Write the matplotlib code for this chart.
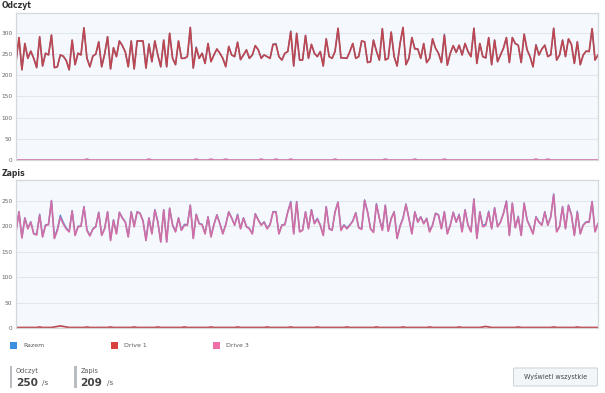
import numpy as np
import matplotlib
matplotlib.use("Agg")
import matplotlib.pyplot as plt
from matplotlib.patches import Rectangle, FancyBboxPatch

plt.rcParams['font.family'] = ['DejaVu Sans']

# ---------------- data ----------------
read_drive1 = [
    232, 289, 213, 275, 240, 257, 240, 218, 291, 222, 252, 248, 295, 218, 220, 248, 245, 235, 213, 283, 225, 252,
    248, 312, 240, 220, 245, 250, 279, 220, 250, 291, 215, 265, 244, 281, 270, 255, 220, 281, 215, 281, 281, 281,
    217, 273, 232, 281, 248, 220,
    283, 220, 299, 240, 225, 281, 240, 240, 244, 313, 217, 265, 240, 252, 228, 275, 232, 248, 262, 252, 240, 220,
    268, 248, 244, 278, 237, 248, 260, 240, 248, 270, 260, 240, 248, 244, 240, 273, 273, 244, 236, 252, 256, 303,
    222, 299, 236, 236, 294, 240,
    273, 252, 244, 256, 222, 286, 244, 240, 256, 311, 241, 241, 240, 256, 275, 240, 244, 281, 279, 230, 232, 283,
    257, 236, 310, 236, 240, 302, 244, 222, 275, 313, 225, 240, 289, 262, 262, 240, 275, 230, 240, 286, 264, 252,
    230, 295, 224, 252, 270, 254,
    271, 248, 275, 256, 244, 311, 228, 275, 244, 241, 289, 225, 283, 232, 248, 264, 289, 230, 289, 275, 271, 230,
    297, 260, 244, 220, 271, 248, 262, 271, 244, 248, 311, 236, 248, 283, 244, 286, 273, 228, 279, 225, 248, 257,
    256, 310, 236, 248,
]

read_drive3 = [
    0, 0, 0, 0, 0, 0, 0, 0, 0, 0, 0, 0, 0, 0, 0, 0, 0, 0, 0, 0, 0, 0,
    0, 0, 2, 0, 0, 0, 0, 0, 0, 0, 0, 0, 0, 0, 0, 0, 0, 0, 0, 0, 0, 0,
    0, 2, 0, 0, 0, 0, 0, 0, 0, 0, 0, 0, 0, 0, 0, 0, 0, 2, 0, 0, 0, 0,
    2, 0, 0, 0, 0, 2, 0, 0, 0, 0, 0, 0, 0, 0, 0, 0, 0, 2, 0, 0, 0, 0,
    2, 0, 0, 0, 0, 2, 0, 0, 0, 0, 0, 0, 0, 0, 0, 0, 0, 0, 0, 0, 2, 0,
    0, 0, 0, 0, 0, 0, 0, 0, 0, 0, 0, 0, 0, 0, 0, 2, 0, 0, 0, 0, 0, 0,
    0, 0, 0, 2, 0, 0, 0, 0, 0, 0, 0, 0, 0, 2, 0, 0, 0, 0, 0, 0, 0, 0,
    0, 0, 0, 0, 0, 0, 0, 0, 0, 0, 0, 0, 0, 0, 0, 0, 0, 0, 0, 0, 0, 0,
    2, 0, 0, 0, 2, 0, 0, 0, 0, 0, 0, 0, 0, 0, 0, 0, 0, 0, 0, 0, 0, 0,
]

write_drive3 = [
    189, 228, 177, 216, 195, 208, 185, 183, 222, 179, 202, 203, 250, 176, 192, 218, 205, 195, 189, 230, 182, 199,
    200, 238, 192, 181, 194, 199, 227, 182, 195, 228, 172, 212, 185, 227, 216, 208, 179, 228, 199, 228, 225, 210,
    172, 216, 185, 232, 208, 169,
    232, 169, 235, 202, 189, 216, 192, 202, 202, 241, 176, 223, 205, 203, 185, 218, 179, 203, 222, 205, 185, 203,
    228, 216, 202, 222, 195, 216, 199, 195, 185, 224, 212, 202, 208, 195, 203, 228, 228, 185, 202, 203, 228, 247,
    185, 248, 189, 192, 228, 195,
    232, 205, 214, 202, 182, 238, 195, 192, 228, 247, 192, 202, 195, 202, 210, 226, 197, 194, 251, 228, 195, 188,
    243, 215, 192, 241, 190, 215, 228, 176, 200, 215, 243, 215, 185, 228, 208, 218, 205, 215, 189, 202, 225, 222,
    195, 228, 185, 202, 227, 208,
    222, 189, 232, 202, 189, 253, 176, 228, 199, 202, 228, 195, 236, 199, 208, 225, 249, 182, 245, 197, 218, 182,
    245, 212, 199, 185, 218, 208, 202, 228, 202, 218, 262, 189, 199, 238, 195, 241, 222, 182, 228, 185, 202, 208,
    208, 248, 189, 205,
]

write_drive1 = [
    1, 1, 1, 1, 1, 1, 1, 1, 2, 1, 1, 1, 1, 2, 3, 4, 3, 2, 1, 1, 1, 1,
    1, 1, 2, 1, 1, 1, 1, 1, 1, 1, 2, 1, 1, 1, 1, 1, 1, 1, 2, 1, 1, 1,
    1, 1, 1, 1, 2, 1, 1, 1, 1, 1, 1, 1, 1, 2, 1, 1, 1, 1, 1, 1, 1, 1,
    2, 1, 1, 1, 1, 1, 1, 1, 1, 2, 1, 1, 1, 1, 1, 1, 1, 1, 1, 2, 1, 1,
    1, 1, 1, 1, 1, 2, 1, 1, 1, 1, 1, 1, 1, 1, 2, 1, 1, 1, 1, 1, 1, 1,
    1, 1, 2, 1, 1, 1, 1, 1, 1, 1, 1, 1, 2, 1, 1, 1, 1, 1, 1, 1, 1, 2,
    1, 1, 1, 1, 1, 1, 1, 1, 2, 1, 1, 1, 1, 1, 1, 1, 1, 1, 2, 1, 1, 1,
    1, 1, 1, 1, 2, 3, 2, 1, 1, 1, 1, 1, 1, 1, 1, 1, 2, 1, 1, 1, 1, 1,
    1, 1, 1, 1, 1, 1, 2, 1, 1, 1, 1, 1, 1, 1, 2, 1, 1, 1, 1, 1, 1, 1,
]

read_total = list(np.array(read_drive1) + np.array(read_drive3))
write_total = list(np.array(write_drive1) + np.array(write_drive3))

read_ticks = [0, 50, 100, 150, 200, 250, 300]
write_ticks = [0, 50, 100, 150, 200, 250]
series_names = ["Razem", "Drive 1", "Drive 3"]
panel_titles = ["Odczyt", "Zapis"]
stat_labels = ["Odczyt", "Zapis"]
stat_values = ["250", "209"]
button_label = "Wyświetl wszystkie"

# ---------------- style ----------------
W, H = 605, 393
C_TOTAL = "#3d8fe0"
C_D1 = "#bd4750"
C_D3 = "#cf6fa5"
LEG_D1 = "#d8413f"
LEG_D3 = "#ef6fa6"
TXT = "#5a5a5a"


def fx(x):
    return x / W


def fy(y):
    return 1 - y / H


fig = plt.figure(figsize=(W / 100, H / 100), dpi=100, facecolor="white")


def make_panel(top, bottom, ymax, ticks, series, title):
    ax = fig.add_axes([fx(16), fy(bottom), fx(598) - fx(16), fy(top) - fy(bottom)])
    ax.set_facecolor("#f5f9fd")
    n = len(series[0][0])
    x = np.arange(n)
    for vals, col, lw in series:
        ax.plot(x, vals, color=col, lw=lw, solid_joinstyle="round", clip_on=True)
    ax.set_xlim(0, n - 1)
    ax.set_ylim(0, ymax)
    ax.set_yticks(ticks)
    ax.set_xticks([])
    ax.tick_params(axis="y", length=0, pad=2.5, labelsize=4.2, labelcolor="#666666")
    ax.grid(axis="y", color="#e2e7ed", lw=0.8)
    ax.set_axisbelow(True)
    for s in ax.spines.values():
        s.set_color("#d4d8dc")
        s.set_linewidth(0.9)
    fig.text(fx(2), fy(top - 7), title, fontsize=5.6, fontweight="bold", color="#333333",
             ha="left", va="center")
    return ax


make_panel(13, 160, 347, read_ticks,
           [(read_total, C_TOTAL, 0.9), (read_drive1, C_D1, 1.25), (read_drive3, C_D3, 1.25)],
           panel_titles[0])
make_panel(180, 328, 291, write_ticks,
           [(write_total, C_TOTAL, 0.9), (write_drive1, C_D1, 1.25), (write_drive3, C_D3, 1.25)],
           panel_titles[1])

# legend
leg_items = [(9.5, C_TOTAL, series_names[0]), (111, LEG_D1, series_names[1]), (212.5, LEG_D3, series_names[2])]
for x0, col, name in leg_items:
    fig.patches.append(Rectangle((fx(x0), fy(349)), fx(7), 7 / H, transform=fig.transFigure,
                                 facecolor=col, edgecolor="none"))
    fig.text(fx(x0 + 13.5), fy(345.5), name, fontsize=4.5, color=TXT, ha="left", va="center")

# stats
for bx, lab, val in [(9.5, stat_labels[0], stat_values[0]), (74, stat_labels[1], stat_values[1])]:
    fig.patches.append(Rectangle((fx(bx), fy(388)), fx(2.8), 22 / H, transform=fig.transFigure,
                                 facecolor="#b9bdc2", edgecolor="none"))
    fig.text(fx(bx + 6.5), fy(370.5), lab, fontsize=4.7, color=TXT, ha="left", va="center")
    fig.text(fx(bx + 6.5), fy(382.5), val, fontsize=7.6, fontweight="bold", color="#444444",
             ha="left", va="center")
    fig.text(fx(bx + 33), fy(383), "/s", fontsize=5.2, color=TXT, ha="left", va="center")

# button
fig.patches.append(FancyBboxPatch((fx(513.5), fy(386)), fx(84), 18 / H,
                                  boxstyle="round,pad=0,rounding_size=0.002",
                                  transform=fig.transFigure, facecolor="#f3f6f9",
                                  edgecolor="#c9d1d9", lw=0.7))
fig.text(fx(555.5), fy(377), button_label, fontsize=4.7, color="#444444", ha="center", va="center")

fig.savefig("out.png", dpi=100, facecolor="white")
